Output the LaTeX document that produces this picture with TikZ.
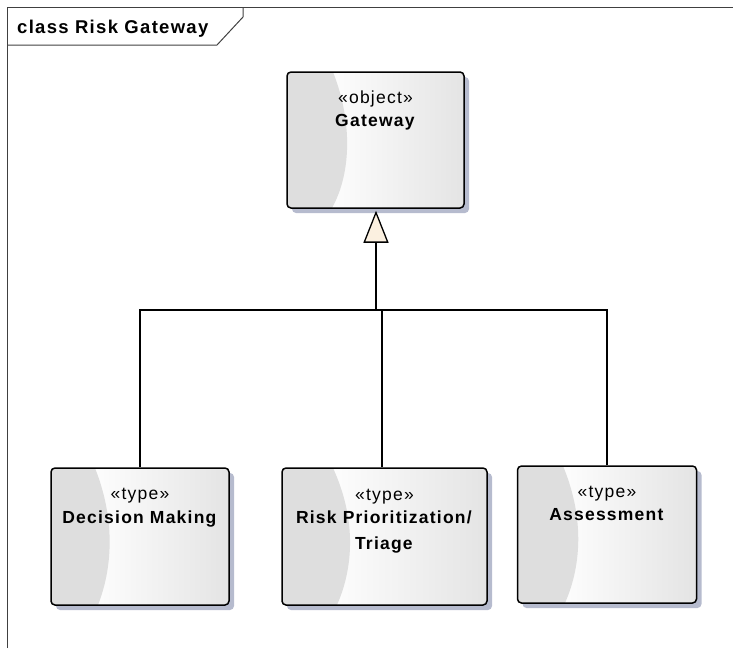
\documentclass[tikz,border=0pt]{standalone}
\usepackage{fontspec}
\setmainfont{Liberation Sans}[LetterSpace=7]
\usetikzlibrary{arrows.meta,calc}
\definecolor{boxshadow}{RGB}{182,187,206}
\definecolor{boxband}{RGB}{222,222,222}
\definecolor{boxright}{RGB}{228,228,228}
\definecolor{arrowcream}{RGB}{251,240,224}
\definecolor{framegray}{RGB}{64,64,64}

\begin{document}
\begin{tikzpicture}[x=1pt,y=1pt,yscale=-1,xscale=1,
  classbox/.style={draw=black,line width=1.5pt,rounded corners=4pt,inner sep=0pt},
  classtext/.style={font=\fontsize{17.5}{23.5}\selectfont,align=center,inner sep=0pt,anchor=north},
  genline/.style={draw=black,line width=1.3pt}]
\useasboundingbox (0,0) rectangle (733,648);

%Shape: Frame
\draw [framegray,line width=1pt] (7,648) -- (7,7) -- (733,7) ;
\draw [framegray,line width=1pt] (7,45) -- (217,45) -- (243,17) -- (243,7) ;
% Text Node
\node [anchor=base west,inner sep=0pt,font=\fontsize{18.5}{22}\selectfont\bfseries] (title) at (17,33) {class Risk Gateway};

%Shape: Gateway
\fill [boxshadow,rounded corners=4pt] (292,77) rectangle (469,213) ;
\begin{scope}
\clip [rounded corners=4pt] (287,72) rectangle (464,208) ;
\shade [left color=white,right color=boxright] (320,72) rectangle (464,208) ;
\fill [boxband] (287,72) -- (333,72) .. controls (352,120) and (352,172) .. (332,208) -- (287,208) -- cycle ;
\end{scope}
\node [classbox,minimum width=177,minimum height=136] (gateway) at (375.5,140) {};
% Text Node
\node [classtext] (gatewaylbl) at (375.5,90.2) {«object»\\\textbf{Gateway}};

%Shape: Decision Making
\fill [boxshadow,rounded corners=4pt] (56,473) rectangle (234,610) ;
\begin{scope}
\clip [rounded corners=4pt] (51,468) rectangle (229,605) ;
\shade [left color=white,right color=boxright] (85,468) rectangle (229,605) ;
\fill [boxband] (51,468) -- (95,468) .. controls (114,516) and (114,564) .. (98,605) -- (51,605) -- cycle ;
\end{scope}
\node [classbox,minimum width=178,minimum height=137] (decision) at (140,536.5) {};
% Text Node
\node [classtext] (decisionlbl) at (140,488.2) {«type»\\\textbf{Decision Making}};

%Shape: Risk Prioritization/Triage
\fill [boxshadow,rounded corners=4pt] (287,473) rectangle (492,610) ;
\begin{scope}
\clip [rounded corners=4pt] (282,468) rectangle (487,605) ;
\shade [left color=white,right color=boxright] (320,468) rectangle (487,605) ;
\fill [boxband] (282,468) -- (333,468) .. controls (355,516) and (355,564) .. (337,605) -- (282,605) -- cycle ;
\end{scope}
\node [classbox,minimum width=205,minimum height=137] (risk) at (384.5,536.5) {};
% Text Node
\node [classtext] (risklbl) at (384.5,488.5) {«type»\\\textbf{Risk Prioritization/}\\[2.5pt]\textbf{Triage}};

%Shape: Assessment
\fill [boxshadow,rounded corners=4pt] (522.5,471) rectangle (701.5,608) ;
\begin{scope}
\clip [rounded corners=4pt] (517.5,466) rectangle (696.5,603) ;
\shade [left color=white,right color=boxright] (552,466) rectangle (696.5,603) ;
\fill [boxband] (517.5,466) -- (563,466) .. controls (583,514) and (583,562) .. (565,603) -- (517.5,603) -- cycle ;
\end{scope}
\node [classbox,minimum width=179,minimum height=137] (assess) at (607,534.5) {};
% Text Node
\node [classtext] (assesslbl) at (607,485.5) {«type»\\\textbf{Assessment}};

%Straight Lines: generalization
\coordinate (bus) at (376,310);
\draw [genline] (decision.north) |- (bus) ;
\draw [genline] (assess.north) |- (bus) ;
\draw [genline] ([xshift=-2.5pt]risk.north) -- ([xshift=-2.5pt]risk.north |- bus) ;
\draw [genline,-{Triangle[length=32pt,width=25pt,fill=arrowcream]}] (bus) -- ($(bus |- gateway.south)+(0,2)$) ;

\end{tikzpicture}
\end{document}
